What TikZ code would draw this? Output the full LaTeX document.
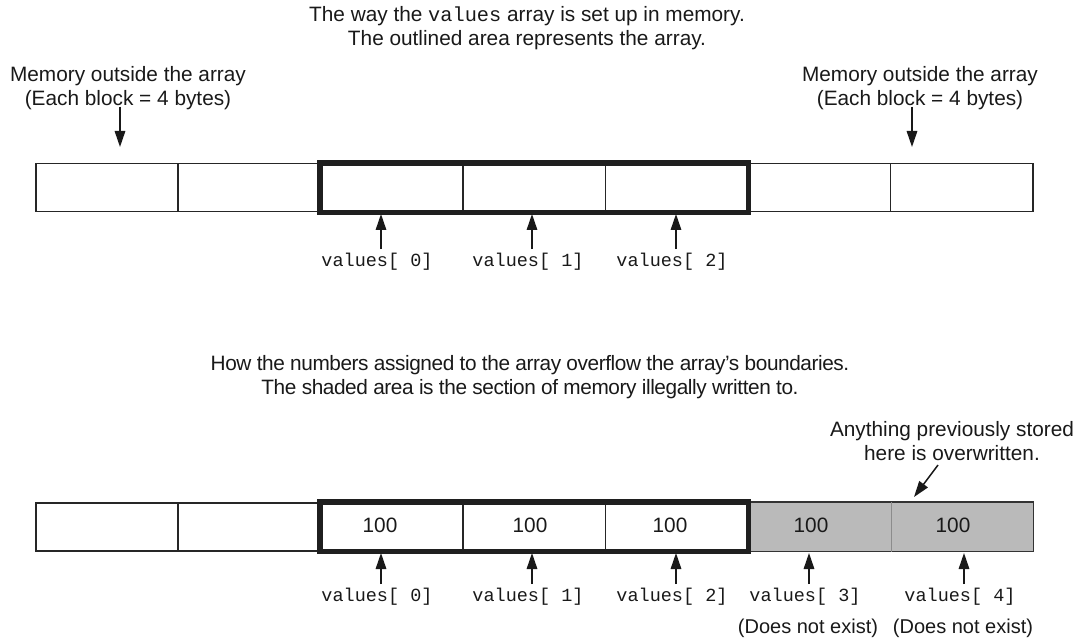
\documentclass[tikz,border=0pt]{standalone}
\usepackage{fontspec}
\setmainfont{Liberation Sans}
\setmonofont{Liberation Mono}
\usetikzlibrary{arrows.meta}
\begin{document}
\begin{tikzpicture}[x=1pt,y=-1pt,
  cell/.style={draw=black!85, line width=1.5pt, minimum width=142.43pt, minimum height=48pt, inner sep=0pt, anchor=north west},
  shadedcell/.style={cell, fill=black!27, draw=none},
  lbl/.style={font=\fontsize{20.8}{23.5}\selectfont, align=center, inner sep=0pt, text=black!90},
  num/.style={font=\fontsize{20.8}{24}\selectfont, inner sep=0pt, text=black!90},
  mono/.style={font=\ttfamily\fontsize{18.5}{22}\selectfont, inner sep=0pt, text=black!90},
  arr/.style={-{Triangle[length=16pt,width=10.5pt]}, line width=1.5pt, black!90},
  thickbox/.style={line width=5.5pt, black!88}
]
\useasboundingbox (0,0) rectangle (1080,639);

% ---------- top diagram ----------
\node[lbl] (t1) at (527,28) {The way the {\ttfamily\fontsize{20.3}{23.5}\selectfont values} array is set up in memory.\\The outlined area represents the array.};
\node[lbl] (ml) at (128,88) {Memory outside the array\\(Each block = 4 bytes)};
\node[lbl] (mr) at (920,88) {Memory outside the array\\(Each block = 4 bytes)};

\foreach \i in {0,...,6} {
  \node[cell] (a\i) at ({35+\i*142.43},163) {};
}
\draw[thickbox] (a2.north west) rectangle (a4.south east);

\coordinate (mlend) at (120,147);
\coordinate (mrend) at (912,147);
\draw[arr] (ml.south -| mlend) ++(0,-3) -- (mlend);
\draw[arr] (mr.south -| mrend) ++(0,-3) -- (mrend);

\node[mono] (v0) at (377,262) {values[ 0]};
\node[mono] (v1) at (528,262) {values[ 1]};
\node[mono] (v2) at (672,262) {values[ 2]};
\foreach \i/\c in {0/a2,1/a3,2/a4} {
  \draw[arr] ([xshift=4pt,yshift=4pt]v\i.north) -- ([xshift=4pt,yshift=-1.5pt]v\i.north |- \c.south);
}

% ---------- bottom diagram ----------
\node[lbl, font=\fontsize{20.8}{23.5}\selectfont\addfontfeatures{LetterSpace=-2}] (t2) at (530,377) {How the numbers assigned to the array overflow the array's boundaries.\\The shaded area is the section of memory illegally written to.};
\node[lbl] (an) at (952,441) {Anything previously stored\\here is overwritten.};

\foreach \i in {0,...,4} {
  \node[cell] (b\i) at ({35+\i*142.43},502) {};
}
\foreach \i in {5,6} {
  \node[shadedcell] (b\i) at ({35+\i*142.43},502) {};
}
\draw[black!80, line width=1.5pt] (b5.north west) -- (b6.north east) -- (b6.south east) -- (b5.south west);
\draw[black!45, line width=1pt] (b5.north east) -- (b5.south east);
\draw[thickbox] (b2.north west) rectangle (b4.south east);

\node[num] (n2) at (380,525) {100};
\node[num] (n3) at (530,525) {100};
\node[num] (n4) at (670,525) {100};
\node[num] (n5) at (811,525) {100};
\node[num] (n6) at (953,525) {100};

\coordinate (ovs) at (938,465);
\coordinate (ove) at (914,497);
\draw[arr] (ovs) -- (ove);

\node[mono] (w0) at (377,597) {values[ 0]};
\node[mono] (w1) at (528,597) {values[ 1]};
\node[mono] (w2) at (672,597) {values[ 2]};
\node[mono] (w3) at (805,597) {values[ 3]};
\node[mono] (w4) at (960,597) {values[ 4]};
\foreach \i/\c in {0/b2,1/b3,2/b4,3/b5,4/b6} {
  \draw[arr] ([xshift=4pt,yshift=4pt]w\i.north) -- ([xshift=4pt,yshift=-1.5pt]w\i.north |- \c.south);
}
\node[lbl, font=\fontsize{20}{23.5}\selectfont] (d3) at (808,628) {(Does not exist)};
\node[lbl, font=\fontsize{20}{23.5}\selectfont] (d4) at (963,628) {(Does not exist)};
\end{tikzpicture}
\end{document}
